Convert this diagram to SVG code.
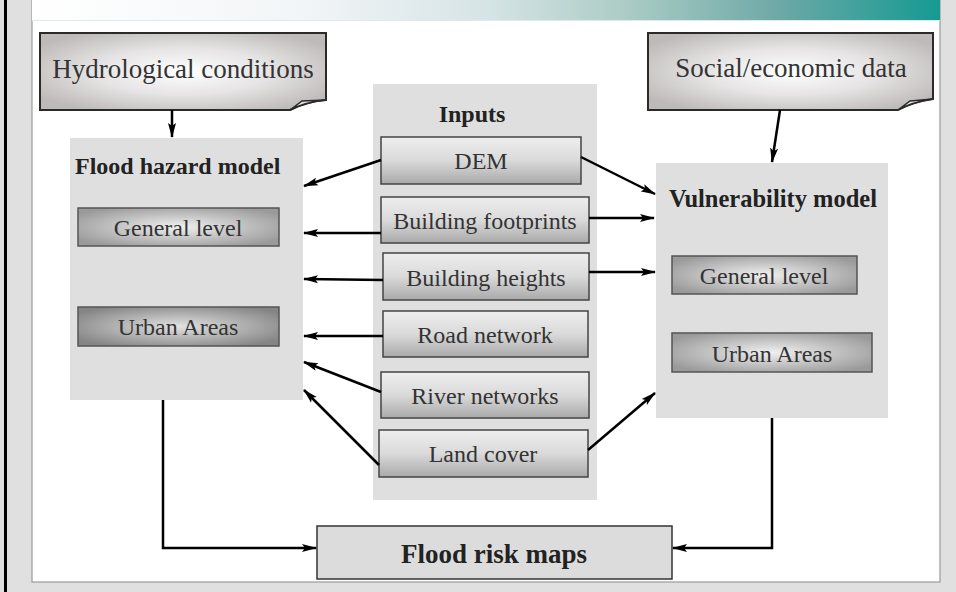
<svg xmlns="http://www.w3.org/2000/svg" width="956" height="592" viewBox="0 0 956 592">
<defs>
<linearGradient id="banner" x1="0" y1="0" x2="1" y2="0">
<stop offset="0" stop-color="#ffffff"/>
<stop offset="0.3" stop-color="#f2f5f7"/>
<stop offset="0.5" stop-color="#d6e4e6"/>
<stop offset="0.65" stop-color="#adcdc6"/>
<stop offset="0.82" stop-color="#6ea9a7"/>
<stop offset="1" stop-color="#159a92"/>
</linearGradient>
<radialGradient id="doc" cx="0.5" cy="0.5" r="0.6">
<stop offset="0" stop-color="#ffffff"/>
<stop offset="0.5" stop-color="#e6e4e4"/>
<stop offset="1" stop-color="#bfbaba"/>
</radialGradient>
<radialGradient id="inner" cx="0.5" cy="0.5" r="0.6">
<stop offset="0" stop-color="#f0f0f0"/>
<stop offset="1" stop-color="#9a9a9a"/>
</radialGradient>
<radialGradient id="innerDark" cx="0.5" cy="0.5" r="0.6">
<stop offset="0" stop-color="#e2e2e2"/>
<stop offset="1" stop-color="#858585"/>
</radialGradient>
<linearGradient id="inp" x1="0" y1="0" x2="0" y2="1">
<stop offset="0" stop-color="#eeeeee"/>
<stop offset="0.5" stop-color="#dadada"/>
<stop offset="1" stop-color="#a9a9a9"/>
</linearGradient>
<marker id="ah" markerUnits="userSpaceOnUse" markerWidth="16" markerHeight="10" refX="14" refY="5" orient="auto">
<path d="M0,1 L15,5 L0,9 L3,5 Z" fill="#000"/>
</marker>
<style>
.t{font-family:"Liberation Serif","Times New Roman",serif;fill:#333;font-size:24px}
.b{font-family:"Liberation Serif","Times New Roman",serif;fill:#222;font-weight:bold;font-size:24px}
.big{font-size:27px}
.panel{fill:#dfdfdf}
.doc{fill:url(#doc);stroke:#2a2a2a;stroke-width:2}
.fold{fill:#e4e2e2;stroke:#2a2a2a;stroke-width:1.5}
.in{fill:url(#inp);stroke:#444;stroke-width:1.5}
.mb{fill:url(#inner);stroke:#555;stroke-width:1.5}
.mbd{fill:url(#innerDark);stroke:#555;stroke-width:1.5}
.c{fill:none;stroke:#000;stroke-width:2.5;marker-end:url(#ah)}
</style>
</defs>
<rect x="0" y="0" width="956" height="592" fill="#e0e0e0"/>
<rect x="4" y="0" width="3" height="592" fill="#000"/>
<rect x="32" y="0" width="908" height="582" fill="#ffffff" stroke="#999" stroke-width="1.2"/>
<rect x="32" y="0" width="908" height="20" fill="url(#banner)"/>
<line x1="32" y1="20.5" x2="940" y2="20.5" stroke="#dfe8ea" stroke-width="1"/>

<g id="hydro">
<path class="doc" d="M40,33 H326 V100 Q305,102 290,110 H40 Z"/>
<path class="fold" d="M290,110 L302,101 L326,100 Q305,102 290,110 Z"/>
<text class="t big" x="183" y="78" text-anchor="middle">Hydrological conditions</text>
</g>
<g id="social">
<path class="doc" d="M648,33 H933 V99 Q912,102 898,110 H648 Z"/>
<path class="fold" d="M898,110 L910,101 L933,99 Q912,102 898,110 Z"/>
<text class="t big" x="791" y="77" text-anchor="middle">Social/economic data</text>
</g>

<g id="flood-hazard">
<rect class="panel" x="70" y="138" width="233" height="262"/>
<text class="b" x="75" y="174">Flood hazard model</text>
<rect class="mb" x="78" y="208" width="201" height="38"/>
<text class="t" x="178" y="236" text-anchor="middle">General level</text>
<rect class="mbd" x="78" y="307" width="201" height="39"/>
<text class="t" x="178" y="335" text-anchor="middle">Urban Areas</text>
</g>

<g id="vulnerability">
<rect class="panel" x="656" y="163" width="232" height="255"/>
<text class="b" x="773" y="207" text-anchor="middle" style="font-size:24.5px">Vulnerability model</text>
<rect class="mb" x="672" y="256" width="185" height="38"/>
<text class="t" x="764" y="284" text-anchor="middle">General level</text>
<rect class="mb" x="672" y="333" width="200" height="39"/>
<text class="t" x="772" y="362" text-anchor="middle">Urban Areas</text>
</g>

<g id="inputs">
<rect class="panel" x="373" y="84" width="224" height="416"/>
<text class="b" x="472" y="122" text-anchor="middle">Inputs</text>
</g>
<g id="dem"><rect class="in" x="381" y="137" width="200" height="47"/><text class="t" x="481" y="169" text-anchor="middle">DEM</text></g>
<g id="footprints"><rect class="in" x="381" y="197" width="208" height="46"/><text class="t" x="485" y="229" text-anchor="middle">Building footprints</text></g>
<g id="heights"><rect class="in" x="383" y="253" width="206" height="47"/><text class="t" x="486" y="286" text-anchor="middle">Building heights</text></g>
<g id="road"><rect class="in" x="383" y="311" width="205" height="46"/><text class="t" x="485" y="343" text-anchor="middle">Road network</text></g>
<g id="river"><rect class="in" x="381" y="372" width="208" height="46"/><text class="t" x="485" y="404" text-anchor="middle">River networks</text></g>
<g id="landcover"><rect class="in" x="379" y="430" width="209" height="47"/><text class="t" x="483" y="462" text-anchor="middle">Land cover</text></g>

<g id="risk-maps">
<rect x="317" y="526" width="355" height="53" fill="#dcdcdc" stroke="#333" stroke-width="1.5"/>
<text class="b big" x="494" y="563" text-anchor="middle">Flood risk maps</text>
</g>

<g id="connectors">
<path class="c" d="M172,110 V137"/>
<path class="c" d="M381,160 L304,186"/>
<path class="c" d="M581,157 L655,194"/>
<path class="c" d="M381,233 L304,233"/>
<path class="c" d="M589,218 L654,218"/>
<path class="c" d="M383,280 L304,279"/>
<path class="c" d="M589,272 L655,272"/>
<path class="c" d="M383,336 L304,336"/>
<path class="c" d="M381,392 L304,362"/>
<path class="c" d="M379,465 L304,390"/>
<path class="c" d="M588,450 L655,393"/>
<path class="c" d="M780,110 L772,162"/>
<path class="c" d="M163,400 V548 H316"/>
<path class="c" d="M772,418 V548 H673"/>
</g>
</svg>
